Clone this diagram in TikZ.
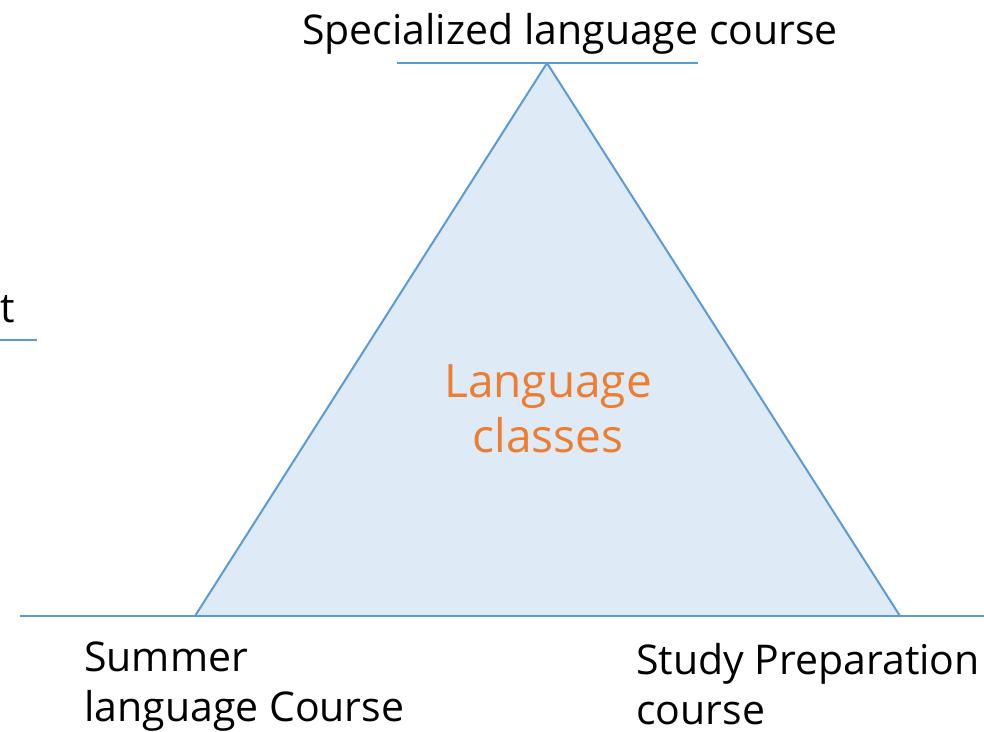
\documentclass[tikz,border=0pt]{standalone}
\usepackage{fontspec}
\setmainfont{Open Sans}
\usepackage{xcolor}
\usetikzlibrary{calc}
\usetikzlibrary{positioning}
\definecolor{lineblue}{HTML}{5B9BD5}
\definecolor{fillblue}{HTML}{DEEAF6}
\definecolor{txtorange}{HTML}{ED7D31}

\begin{document}
\begin{tikzpicture}[x=1pt,y=-1pt,semithick]
 \tikzstyle{rule}=[draw=lineblue,line width=2pt]
 \tikzstyle{lbl}=[inner sep=0pt,font=\fontsize{41}{50}\selectfont,align=left]
 \useasboundingbox (0,0) rectangle (984,731);
 % corners of the triangle
 \coordinate (L) at (195,616);
 \coordinate (R) at (900,616);
 \coordinate (T) at (547,63);
 \coordinate (Lend) at (20,616);
 \coordinate (Rend) at (984,616);
 \coordinate (Ta) at (397,63);
 \coordinate (Tb) at (698,63);
 \coordinate (Ma) at (0,340);
 \coordinate (Mb) at (37,340);

 \fill[fillblue] (L) -- (R) -- (T) -- cycle;
 \path[rule]
   (Lend) edge (L)
   (L) edge (R)
   (R) edge (Rend)
   (L) edge (T)
   (R) edge (T)
   (Ta) edge (Tb)
   (Ma) edge (Mb);

 % labels (base anchor sits on the last line)
 \node[lbl,anchor=base] (spec) at (570,44) {Specialized language course};
 \node[lbl,anchor=base west] (mid) at (0,322) {t};
 \node[lbl,anchor=base west] (summer) at (84,721) {Summer\\language Course};
 \node[lbl,anchor=base west] (study) at (636,724) {Study Preparation\\course};
 \node[lbl,align=center,text=txtorange,anchor=base,
       font=\fontsize{46}{55}\selectfont] (lang) at (548,452) {Language\\classes};
\end{tikzpicture}
\end{document}
